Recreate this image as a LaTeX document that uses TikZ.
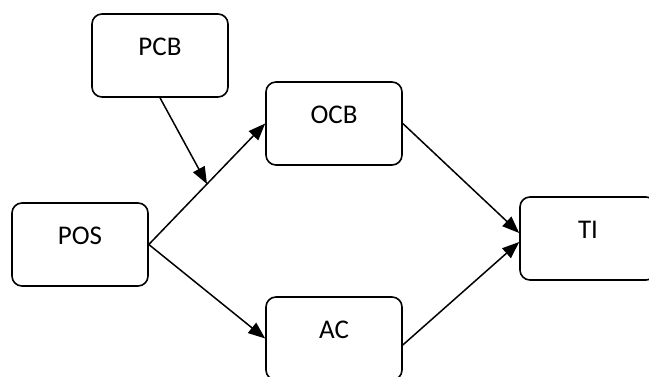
\documentclass[tikz,border=0pt]{standalone}
\usepackage{fontspec}
\setmainfont{Carlito}
\usetikzlibrary{arrows.meta}

\tikzset{
factor/.style={
draw,line width=1.6pt,rounded corners=10pt,
minimum width=136pt,minimum height=83pt,
text height=17pt,text depth=17pt,inner sep=0pt,
font=\fontsize{27}{31}\selectfont
},
path arrow/.style={
line width=1.5pt,-{Triangle[length=17pt,width=13pt]}
},
}

\begin{document}
\begin{tikzpicture}[x=1pt,y=-1pt]
\useasboundingbox (0,0) rectangle (649,377);
\clip (0,0) rectangle (649,377);
\node[factor] (PCB) at (160,55.5) {PCB};
\node[factor] (OCB) at (334,123.5) {OCB};
\node[factor] (POS) at (80,244.5) {POS};
\node[factor] (AC) at (334,338.5) {AC};
\node[factor] (TI) at (588,238.5) {TI};
\begin{scope}[path arrow]
\draw (POS.east) -- coordinate[pos=.5] (moderate) (OCB.west);
\draw (POS.east) -- (AC.west);
\draw (OCB.east) -- ([yshift=5.5pt]TI.west);
\draw ([yshift=-6.5pt]AC.east) -- ([yshift=-3.5pt]TI.west);
\draw (PCB.south) -- (moderate);
\end{scope}
\end{tikzpicture}
\end{document}
